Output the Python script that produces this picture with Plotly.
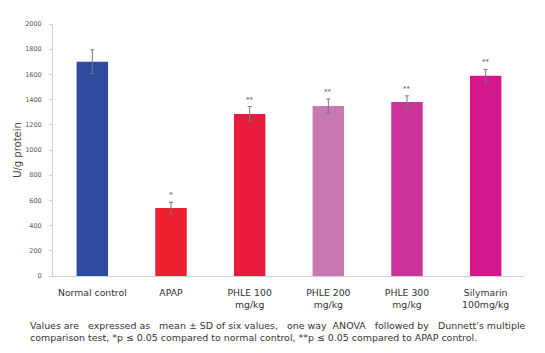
import plotly.graph_objects as go

categories = ["Normal control", "APAP", "PHLE 100<br>mg/kg", "PHLE 200<br>mg/kg", "PHLE 300<br>mg/kg", "Silymarin<br>100mg/kg"]
values = [1700, 540, 1285, 1350, 1380, 1590]
errors = [95, 45, 60, 55, 50, 50]
marks = ["", "*", "**", "**", "**", "**"]
colors = ["#2F4BA0", "#EC2030", "#EA1A3E", "#C879B2", "#CC3399", "#D3188B"]
y_ticks = list(range(0, 2001, 200))

footnote = ("Values are   expressed as   mean ± SD of six values,   one way  ANOVA   followed by   Dunnett's multiple<br>"
            "comparison test, *p ≤ 0.05 compared to normal control, **p ≤ 0.05 compared to APAP control.")

fig = go.Figure()
fig.add_trace(go.Bar(
    x=categories, y=values,
    marker=dict(color=colors, line=dict(width=0)),
    width=0.4,
    error_y=dict(type="data", array=errors, visible=True, color="#777777", thickness=1, width=2),
    showlegend=False,
))

for c, v, e, m in zip(categories, values, errors, marks):
    if m:
        fig.add_annotation(x=c, y=v + e, text=m, showarrow=False, yanchor="bottom",
                           yshift=1, font=dict(size=7, color="#555555"))

fig.add_annotation(xref="paper", yref="paper", x=-0.053, y=-0.168, xanchor="left", yanchor="top",
                   text=footnote, showarrow=False, align="left",
                   font=dict(size=9.45, color="#333333", family="DejaVu Sans"))

fig.update_layout(
    width=545, height=353,
    margin=dict(l=53, r=20, t=24, b=77),
    paper_bgcolor="white", plot_bgcolor="white",
    font=dict(family="DejaVu Sans", color="#444444"),
    bargap=0.6,
)
fig.update_xaxes(showline=True, linecolor="#D0D0D0", linewidth=1, ticks="outside", ticklen=8,
                 tickcolor="rgba(0,0,0,0)", tickfont=dict(size=9.3, color="#333333"),
                 showgrid=False)
fig.update_yaxes(range=[0, 2000], tickvals=y_ticks, showline=True, linecolor="#D0D0D0", linewidth=1,
                 ticks="outside", ticklen=3, tickcolor="#D0D0D0", showgrid=False, zeroline=False,
                 ticklabelstandoff=6,
                 tickfont=dict(size=6.5, color="#555555"),
                 title=dict(text="U/g protein", font=dict(size=10, color="#444444"), standoff=1))

fig.write_html("out.html")
